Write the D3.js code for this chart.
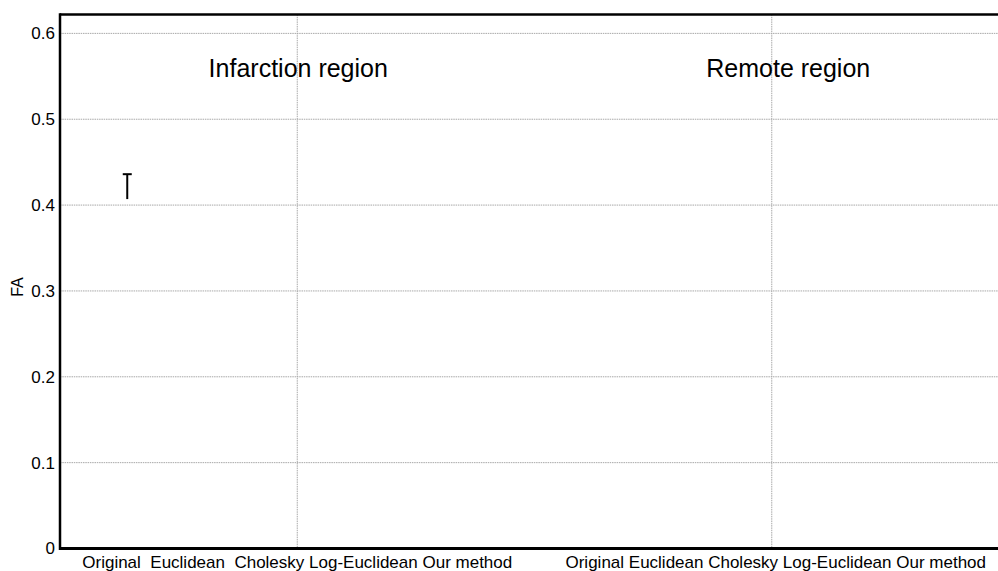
<!DOCTYPE html>
<html>
<head>
<meta charset="utf-8">
<script src="https://cdn.jsdelivr.net/npm/d3@7/dist/d3.min.js"></script>
<style>
  html, body { margin: 0; padding: 0; background: #fff; }
  svg { display: block; font-family: "Liberation Sans", Arial, sans-serif; }
</style>
</head>
<body>
<svg id="chart" width="998" height="571"></svg>
<script>
// Region groups and the methods compared inside each region
const regions = ["Infarction region", "Remote region"];
const methods = ["Original", "Euclidean", "Cholesky", "Log-Euclidean", "Our method"];
// Method label rows printed under each region
const methodRows = [
  "Original  Euclidean  Cholesky Log-Euclidean Our method",
  "Original Euclidean Cholesky Log-Euclidean Our method"
];
// Y axis ticks
const yTicks = [0, 0.1, 0.2, 0.3, 0.4, 0.5, 0.6];
// Error bars that are shown (region, method, low, high)
const errRegion = ["Infarction region"];
const errMethod = ["Original"];
const errLow = [0.407];
const errHigh = [0.436];

const svg = d3.select("#chart");
const m = { left: 60, top: 14.5, bottom: 548.5, right: 1009 };

const x = d3.scaleBand().domain(regions).range([m.left, m.right]);
const xm = d3.scalePoint().domain(methods).range([-170, 170]);
const y = d3.scaleLinear().domain([0, 0.622]).range([m.bottom, m.top]);

// horizontal grid
svg.append("g").selectAll("line").data(yTicks.filter(d => d > 0)).join("line")
  .attr("x1", m.left).attr("x2", 998)
  .attr("y1", d => y(d)).attr("y2", d => y(d))
  .attr("stroke", "#a8a8a8").attr("stroke-width", 1).attr("stroke-dasharray", "1.5,0.8");

// vertical separators at region centres
svg.append("g").selectAll("line").data(regions).join("line")
  .attr("x1", d => x(d) + x.bandwidth() / 2).attr("x2", d => x(d) + x.bandwidth() / 2)
  .attr("y1", m.top).attr("y2", m.bottom)
  .attr("stroke", "#a8a8a8").attr("stroke-width", 1).attr("stroke-dasharray", "1.5,0.8");

// y axis
const yAxis = svg.append("g").attr("transform", `translate(${m.left},0)`)
  .call(d3.axisLeft(y).tickValues(yTicks).tickSize(0).tickPadding(5)
    .tickFormat(d => d === 0 ? "0" : d3.format(".1f")(d)));
yAxis.select(".domain").remove();
yAxis.selectAll("text").attr("font-size", 17).attr("fill", "#000")
  .attr("font-family", "Liberation Sans, Arial, sans-serif");

// frame lines: left, top, bottom
svg.append("line").attr("x1", m.left).attr("x2", m.left).attr("y1", m.top - 1.2).attr("y2", m.bottom + 1.5)
  .attr("stroke", "#000").attr("stroke-width", 2.5);
svg.append("line").attr("x1", m.left).attr("x2", 998).attr("y1", m.top).attr("y2", m.top)
  .attr("stroke", "#000").attr("stroke-width", 2.5);
svg.append("line").attr("x1", m.left).attr("x2", 998).attr("y1", m.bottom).attr("y2", m.bottom)
  .attr("stroke", "#000").attr("stroke-width", 3);

// y label
svg.append("text").attr("transform", `translate(23,287) rotate(-90)`)
  .attr("text-anchor", "middle").attr("font-size", 16).text("FA");

// region titles
svg.append("text").attr("x", x(regions[0]) + x.bandwidth() / 2 + 1).attr("y", 77)
  .attr("text-anchor", "middle").attr("font-size", 25).text(regions[0]);
svg.append("text").attr("x", x(regions[1]) + x.bandwidth() / 2 - 65.5).attr("y", 77)
  .attr("text-anchor", "start").attr("font-size", 25).text(regions[1]);

// method labels under each region
svg.append("g").selectAll("text").data(regions).join("text")
  .attr("x", (d, i) => x(d) + x.bandwidth() / 2 + (i === 1 ? 4 : 0))
  .attr("y", 568)
  .attr("text-anchor", "middle").attr("font-size", 17)
  .style("white-space", "pre").attr("xml:space", "preserve")
  .text((d, i) => methodRows[i]);

// error bars
const errs = errLow.map((lo, i) => ({ r: errRegion[i], m: errMethod[i], lo, hi: errHigh[i] }));
const eg = svg.append("g").selectAll("g").data(errs).join("g")
  .attr("transform", d => `translate(${x(d.r) + x.bandwidth() / 2 + xm(d.m)},0)`);
eg.append("line").attr("x1", 0).attr("x2", 0)
  .attr("y1", d => y(d.hi)).attr("y2", d => y(d.lo))
  .attr("stroke", "#000").attr("stroke-width", 2);
eg.append("line").attr("x1", -4.5).attr("x2", 4.5)
  .attr("y1", d => y(d.hi)).attr("y2", d => y(d.hi))
  .attr("stroke", "#000").attr("stroke-width", 2);
</script>
</body>
</html>
